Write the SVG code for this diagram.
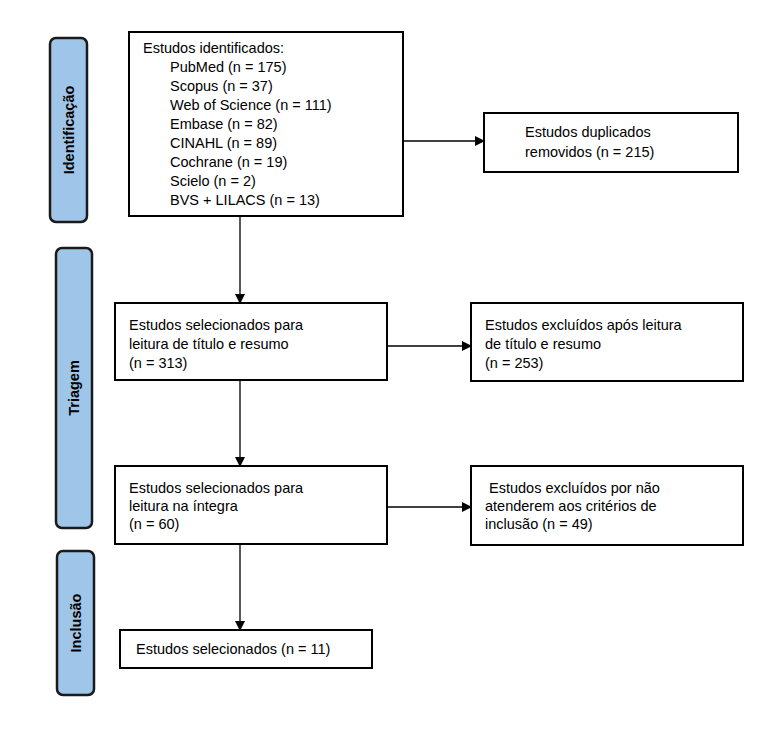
<svg xmlns="http://www.w3.org/2000/svg" width="783" height="730" viewBox="0 0 783 730">
<defs>
<marker id="ah" markerWidth="10" markerHeight="10" refX="9" refY="5" orient="auto" markerUnits="userSpaceOnUse"><path d="M0,0 L10,5 L0,10 Z" fill="#000"/></marker>
<style>
.b{fill:#fff;stroke:#000;stroke-width:2}
.s{fill:#9fc5e8;stroke:#1a1a1a;stroke-width:2.5}
text{font-family:"Liberation Sans",Arial,sans-serif;font-size:14.5px;fill:#000}
.l{font-weight:bold;font-size:14.5px}
.c{stroke:#000;stroke-width:1.3;fill:none;marker-end:url(#ah)}
</style>
</defs>
<rect width="783" height="730" fill="#fff"/>
<g id="stage-id"><rect class="s" x="50" y="38" width="37" height="184" rx="6"/><text class="l" transform="translate(74,130) rotate(-90)" text-anchor="middle">Identificação</text></g>
<g id="stage-tri"><rect class="s" x="56" y="248" width="36" height="280" rx="6"/><text class="l" transform="translate(79,388) rotate(-90)" text-anchor="middle">Triagem</text></g>
<g id="stage-inc"><rect class="s" x="57" y="551" width="37" height="144" rx="6"/><text class="l" transform="translate(81,623) rotate(-90)" text-anchor="middle">Inclusão</text></g>
<g id="n1"><rect class="b" x="129" y="32" width="274" height="184"/>
<text x="143" y="53">Estudos identificados:</text>
<text x="170" y="72">PubMed (n = 175)</text>
<text x="170" y="91">Scopus (n = 37)</text>
<text x="170" y="110">Web of Science (n = 111)</text>
<text x="170" y="129">Embase (n = 82)</text>
<text x="170" y="148">CINAHL (n = 89)</text>
<text x="170" y="167">Cochrane (n = 19)</text>
<text x="170" y="186">Scielo (n = 2)</text>
<text x="170" y="205">BVS + LILACS (n = 13)</text></g>
<g id="n2"><rect class="b" x="484" y="113" width="254" height="59"/><text x="525" y="137">Estudos duplicados</text><text x="525" y="157">removidos (n = 215)</text></g>
<g id="n3"><rect class="b" x="115" y="303" width="272" height="77"/><text x="129" y="330">Estudos selecionados para</text><text x="129" y="349">leitura de título e resumo</text><text x="129" y="368"> (n = 313)</text></g>
<g id="n4"><rect class="b" x="471" y="303" width="272" height="78"/><text x="485" y="330">Estudos excluídos após leitura</text><text x="485" y="349">de título e resumo</text><text x="485" y="368">(n = 253)</text></g>
<g id="n5"><rect class="b" x="115" y="466" width="272" height="78"/><text x="129" y="493">Estudos selecionados para</text><text x="129" y="511">leitura na íntegra</text><text x="129" y="529">(n = 60)</text></g>
<g id="n6"><rect class="b" x="471" y="466" width="272" height="79"/><text x="489" y="493">Estudos excluídos por não</text><text x="485" y="511">atenderem aos critérios de</text><text x="485" y="529">inclusão (n = 49)</text></g>
<g id="n7"><rect class="b" x="120" y="630" width="252" height="38"/><text x="136" y="654">Estudos selecionados (n = 11)</text></g>
<g id="connectors">
<path class="c" d="M403,141 H484"/>
<path class="c" d="M240,216 V303"/>
<path class="c" d="M387,346 H471"/>
<path class="c" d="M240,380 V466"/>
<path class="c" d="M387,507 H471"/>
<path class="c" d="M240,544 V630"/>
</g>
</svg>
